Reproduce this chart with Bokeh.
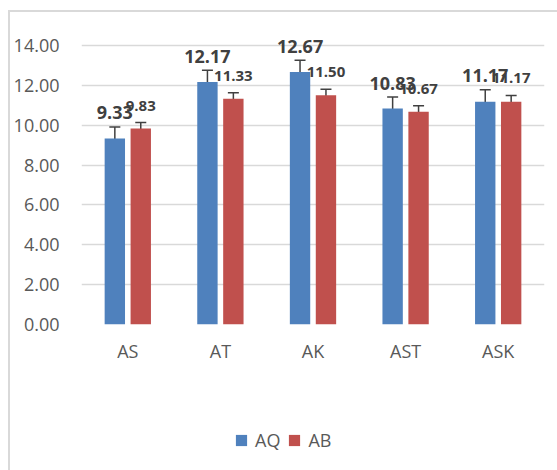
from bokeh.plotting import figure
from bokeh.layouts import column
from bokeh.models import (ColumnDataSource, FactorRange, Range1d, FixedTicker, Whisker,
                          TeeHead, Legend, LegendItem, NumeralTickFormatter)
from bokeh.transform import dodge
from bokeh.core.properties import value
from bokeh.embed import file_html
from bokeh.resources import INLINE

categories = ["AS", "AT", "AK", "AST", "ASK"]
series_names = ["AQ", "AB"]
aq_values = [9.33, 12.17, 12.67, 10.83, 11.17]
ab_values = [9.83, 11.33, 11.50, 10.67, 11.17]
aq_errors = [0.58, 0.58, 0.58, 0.58, 0.60]
ab_errors = [0.30, 0.30, 0.30, 0.30, 0.32]
y_ticks = [0, 2, 4, 6, 8, 10, 12, 14]

BLUE = "#4F81BD"
RED = "#C0504D"
FONT = "Open Sans"

src = ColumnDataSource(dict(
    cat=categories,
    aq=aq_values, ab=ab_values,
    aq_lo=[v - e for v, e in zip(aq_values, aq_errors)],
    aq_hi=[v + e for v, e in zip(aq_values, aq_errors)],
    ab_lo=[v - e for v, e in zip(ab_values, ab_errors)],
    ab_hi=[v + e for v, e in zip(ab_values, ab_errors)],
    aq_txt=["%.2f" % v for v in aq_values],
    ab_txt=["%.2f" % v for v in ab_values],
))

p = figure(x_range=FactorRange(*categories, range_padding=0),
           y_range=Range1d(0, 15.25),
           width=547, height=368, output_backend="svg", toolbar_location=None,
           min_border_left=71, min_border_right=13, min_border_top=8, min_border_bottom=56)
p.outline_line_color = None
p.background_fill_color = "white"
p.border_fill_color = "white"

p.xgrid.grid_line_color = None
p.ygrid.grid_line_color = "#d9d9d9"
p.ygrid.grid_line_width = 1.5
p.yaxis.ticker = FixedTicker(ticks=y_ticks)
p.yaxis.formatter = NumeralTickFormatter(format="0.00")

for ax in (p.xaxis, p.yaxis):
    ax.axis_line_color = None
    ax.major_tick_line_color = None
    ax.minor_tick_line_color = None
    ax.major_label_text_font = FONT
    ax.major_label_text_font_size = "18px"
    ax.major_label_text_color = "#595959"
p.yaxis.major_label_standoff = 16
p.xaxis.major_label_standoff = 8

off = 0.14
w = 0.22
p.vbar(x=dodge("cat", -off, range=p.x_range), top="aq", width=w, source=src,
       fill_color=BLUE, line_color=None)
p.vbar(x=dodge("cat", off, range=p.x_range), top="ab", width=w, source=src,
       fill_color=RED, line_color=None)

for lo, hi, o in (("aq_lo", "aq_hi", -off), ("ab_lo", "ab_hi", off)):
    wk = Whisker(base=dodge("cat", o, range=p.x_range), lower=lo, upper=hi, source=src,
                 line_color="#404040", line_width=1.5,
                 upper_head=TeeHead(size=11, line_color="#404040", line_width=1.5),
                 lower_head=TeeHead(size=11, line_color="#404040", line_width=1.5))
    p.add_layout(wk)

p.text(x=dodge("cat", -off, range=p.x_range), y="aq_hi", text="aq_txt", source=src,
       text_font=value(FONT), text_font_style="bold", text_font_size="18px",
       text_color="#404040", text_align="center", text_baseline="alphabetic", y_offset=-14)
p.text(x=dodge("cat", off, range=p.x_range), y="ab_hi", text="ab_txt", source=src,
       text_font=value(FONT), text_font_style="bold", text_font_size="15px",
       text_color="#404040", text_align="center", text_baseline="alphabetic", y_offset=-17)

# legend strip underneath the chart (its bars lie outside its visible range)
lg = figure(width=547, height=90, output_backend="svg", toolbar_location=None,
            x_axis_type=None, y_axis_type=None,
            x_range=FactorRange(*categories), y_range=Range1d(100, 101),
            min_border=0)
lg.outline_line_color = None
lg.xgrid.grid_line_color = None
lg.ygrid.grid_line_color = None
k1 = lg.vbar(x="cat", top="aq", width=0.2, source=src, fill_color=BLUE, line_color=None)
k2 = lg.vbar(x="cat", top="ab", width=0.2, source=src, fill_color=RED, line_color=None)
legend = Legend(items=[LegendItem(label=series_names[0], renderers=[k1]),
                       LegendItem(label=series_names[1], renderers=[k2])],
                orientation="horizontal", location=(153, 18),
                glyph_width=14, glyph_height=14, label_standoff=7, spacing=7,
                padding=0, margin=0, border_line_color=None, background_fill_alpha=0,
                label_text_font=FONT, label_text_font_size="18px", label_text_color="#595959")
lg.add_layout(legend, "center")

layout = column(p, lg, spacing=0)
layout.styles = {"border-left": "2px solid #d9d9d9", "border-top": "2px solid #d9d9d9"}
layout.margin = (10, 0, 0, 8)

open("out.html", "w").write(file_html(layout, INLINE))
